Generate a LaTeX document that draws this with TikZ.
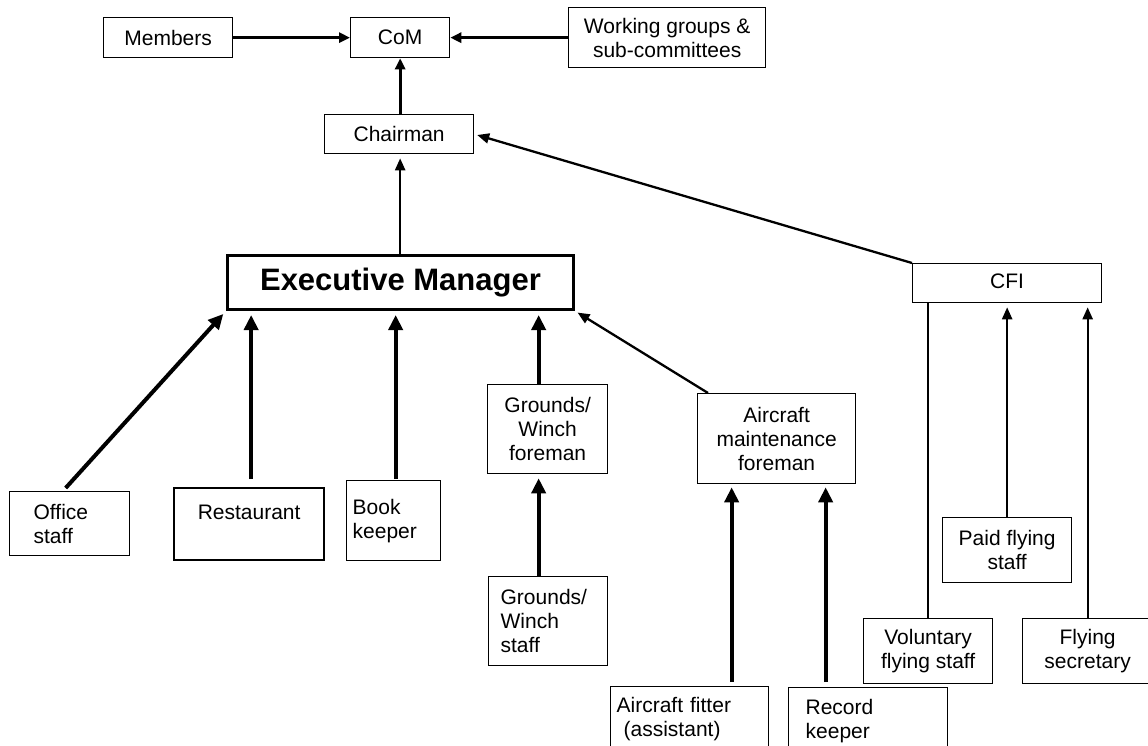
\documentclass[tikz,border=0pt]{standalone}
\usepackage{fontspec}
\setmainfont{Liberation Sans}
\usetikzlibrary{arrows.meta,calc}
\begin{document}
\begin{tikzpicture}[x=1pt,y=-1pt,
  box/.style={draw, line width=1.3pt, inner sep=0pt, anchor=north west,
    font=\fontsize{21}{24}\selectfont, align=center},
  thickarr/.style={line width=4pt, -{Triangle[length=15pt,width=14pt]}},
  medarr/.style={line width=3pt, -{Triangle[length=11pt,width=10pt]}},
  thinarr/.style={line width=2.3pt, -{Triangle[length=12pt,width=10pt]}},
  plainline/.style={line width=2.3pt}]
\useasboundingbox (0,0) rectangle (1148,746);
\clip (0,0) rectangle (1148,746);
% top row
\node[box, minimum width=129pt, minimum height=40pt] (mem) at (103,17) {Members};
\node[box, minimum width=99pt, minimum height=40pt] (com) at (350,17) {CoM};
\node[box, minimum width=197pt, minimum height=60pt] (wg) at (568,7) {Working groups \&\\sub-committees};
\node[box, minimum width=149pt, minimum height=39pt] (chair) at (324,114) {Chairman};
\node[box, line width=3pt, minimum width=346pt, minimum height=54pt,
  font=\fontsize{31}{36}\selectfont\bfseries] (exec) at (226,254) {Executive Manager};
\node[box, minimum width=189pt, minimum height=39pt] (cfi) at (912,263) {\raisebox{4pt}{CFI}};
% lower left
\node[box, align=left, minimum width=120pt, text width=72pt, minimum height=64pt] (off) at (9,491) {Office\\staff};
\node[box, line width=2.3pt, minimum width=150pt, minimum height=72pt] (rest) at (173,487) {Restaurant\\\phantom{R}};
\node[box, align=left, minimum width=94pt, text width=82pt, minimum height=80pt] (book) at (346,480) {Book\\keeper};
\node[box, minimum width=120pt, minimum height=89pt] (gfore) at (487,384) {Grounds/\\Winch\\foreman};
\node[box, align=left, minimum width=119pt, text width=95pt, minimum height=89pt] (gstaff) at (488,576) {Grounds/\\Winch\\staff};
\node[box, minimum width=158pt, minimum height=90pt] (amf) at (697,393) {Aircraft\\maintenance\\foreman};
\node[box, align=left, minimum width=158pt, text width=146pt, minimum height=64pt] (fit) at (610,686) {Aircraft fitter\\\hspace*{7pt}(assistant)};
\node[box, align=left, minimum width=159pt, text width=125pt, minimum height=66pt] (rec) at (788,687) {Record\\keeper};
% flying
\node[box, minimum width=129pt, minimum height=65pt] (paid) at (942,517) {Paid flying\\staff};
\node[box, minimum width=129pt, minimum height=65pt] (vol) at (863,618) {Voluntary\\flying staff};
\node[box, minimum width=130pt, minimum height=65pt] (fsec) at (1022,618) {Flying\\secretary};
% connector anchor points
\coordinate (chairtop) at (chair.north -| com.south);
\coordinate (exectop) at (exec.north -| com.south);
\coordinate (offtop) at ($(off.north)+(-4,-3)$);
\coordinate (resttop) at ($(rest.north)+(2,-8)$);
\coordinate (booktop) at ($(book.north)+(2,-1)$);
\coordinate (gforetop) at ($(gfore.north)+(-9,0)$);
\coordinate (gstafftop) at ($(gstaff.north)+(-9.5,0)$);
\coordinate (amftop) at ($(amf.north west)+(11,0)$);
\coordinate (fittop) at ($(fit.north)+(42,-4)$);
\coordinate (rectop) at ($(rec.north)+(-42.5,-5)$);
% connectors top
\draw[medarr] (mem.east) -- (com.west);
\draw[medarr] (wg.west |- com.west) -- (com.east);
\draw[medarr] (chairtop) -- (chairtop |- com.south);
\draw[thinarr, shorten >=4pt] (exectop) -- (exectop |- chair.south);
\draw[thinarr, shorten >=3pt] (cfi.north west) -- (chair.east);
% connectors to exec
\draw[thickarr, shorten >=4pt] (offtop) -- (exec.south west);
\draw[thickarr, shorten >=4pt] (resttop) -- (resttop |- exec.south);
\draw[thickarr, shorten >=4pt] (booktop) -- (booktop |- exec.south);
\draw[thickarr, shorten >=4pt] (gforetop) -- (gforetop |- exec.south);
\draw[thickarr, shorten >=4pt] (gstafftop) -- (gstafftop |- gfore.south);
\draw[thinarr, shorten >=3pt] (amftop) -- (exec.south east);
% to aircraft maintenance foreman
\draw[thickarr, shorten >=3pt] (fittop) -- (fittop |- amf.south);
\draw[thickarr, shorten >=3pt] (rectop) -- (rectop |- amf.south);
% CFI
\draw[plainline] (vol.north) -- (vol.north |- cfi.south);
\draw[thinarr, shorten >=4pt] (paid.north) -- (paid.north |- cfi.south);
\draw[thinarr, shorten >=4pt] (fsec.north) -- (fsec.north |- cfi.south);
\end{tikzpicture}
\end{document}
